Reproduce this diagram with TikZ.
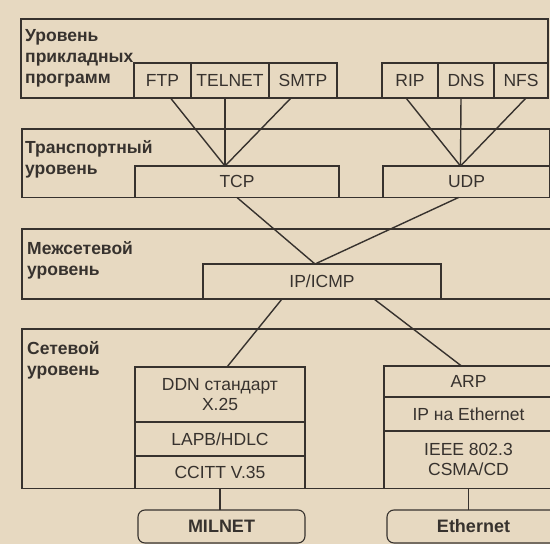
\documentclass[tikz,border=0pt]{standalone}
\usepackage{fontspec}
\setmainfont{Liberation Sans}
\definecolor{paper}{RGB}{231,217,193}
\definecolor{ink}{RGB}{55,50,46}

\begin{document}
\begin{tikzpicture}[
        x=1pt, y=-1pt,
        layern/.style={draw=ink, line width=1.3pt, inner sep=0pt, outer sep=0pt},
        protn/.style={draw=ink, line width=1.1pt, inner sep=0pt, outer sep=0pt, text=ink, align=center,
            font=\fontsize{17.5}{20}\selectfont},
        netn/.style={protn, rounded corners=7pt, font=\bfseries\fontsize{18}{20}\selectfont},
        labeln/.style={anchor=north west, inner sep=0pt, text=ink, align=left,
            font=\bfseries\fontsize{17.5}{21}\selectfont},
        link/.style={draw=ink, line width=1.4pt},
    ]
    \clip (0,0) rectangle (550,544);
    \fill[paper] (0,0) rectangle (550,544);

    % layers
    \node[layern, minimum width=527pt, minimum height=79pt] (app) at (284.5,58.5) {};
    \node[layern, minimum width=528pt, minimum height=68.5pt] (trans) at (286,163.25) {};
    \node[layern, minimum width=553pt, minimum height=70pt] (inet) at (298.5,264) {};
    \node[layern, minimum width=553pt, minimum height=159.5pt] (net) at (298.5,408.75) {};

    \node[labeln] (applbl) at (25,29.5) {Уровень\\прикладных\\программ};
    \node[labeln] (translbl) at (25,140) {Транспортный\\уровень};
    \node[labeln] (inetlbl) at (27,241) {Межсетевой\\уровень};
    \node[labeln] (netlbl) at (27,341) {Сетевой\\уровень};

    % application protocols
    \node[protn, minimum width=57pt, minimum height=35pt] (ftp) at (162.5,80.5) {FTP};
    \node[protn, minimum width=78pt, minimum height=35pt] (telnet) at (230,80.5) {TELNET};
    \node[protn, minimum width=68pt, minimum height=35pt] (smtp) at (303,80.5) {SMTP};
    \node[protn, minimum width=56pt, minimum height=35pt] (rip) at (410,80.5) {RIP};
    \node[protn, minimum width=56pt, minimum height=35pt] (dns) at (466,80.5) {DNS};
    \node[protn, minimum width=54pt, minimum height=35pt] (nfs) at (521,80.5) {NFS};

    % transport
    \node[protn, minimum width=204pt, minimum height=31.5pt] (tcp) at (237,181.75) {TCP};
    \node[protn, minimum width=167pt, minimum height=31.5pt] (udp) at (466.5,181.75) {UDP};

    % internet
    \node[protn, minimum width=238pt, minimum height=35pt] (ip) at (322,281.5) {IP/ICMP};

    % network
    \node[protn, minimum width=170pt, minimum height=55pt] (ddn) at (220,394.5) {DDN стандарт\\X.25};
    \node[protn, minimum width=170pt, minimum height=34pt] (lapb) at (220,439) {LAPB/HDLC};
    \node[protn, minimum width=170pt, minimum height=32.5pt] (ccitt) at (220,472.25) {CCITT V.35};
    \node[protn, minimum width=169pt, minimum height=31pt] (arp) at (468.5,381.5) {ARP};
    \node[protn, minimum width=169pt, minimum height=34pt] (ipeth) at (468.5,414) {IP на Ethernet};
    \node[protn, minimum width=169pt, minimum height=57.5pt] (ieee) at (468.5,459.75) {IEEE 802.3\\CSMA/CD};

    \node[netn, minimum width=167pt, minimum height=33pt] (milnet) at (221.5,526.5) {MILNET};
    \node[netn, minimum width=173pt, minimum height=33pt] (ether) at (473.5,526.5) {Ethernet};

    % connectors
    \draw[link] ([xshift=8pt]ftp.south) -- ([xshift=-12pt]tcp.north);
    \draw[link] ([xshift=-5pt]telnet.south) -- ([xshift=-12pt]tcp.north);
    \draw[link] ([xshift=-12pt]smtp.south) -- ([xshift=-12pt]tcp.north);
    \draw[link] ([xshift=-4pt]rip.south) -- ([xshift=-6pt]udp.north);
    \draw[link] ([xshift=-5pt]dns.south) -- ([xshift=-6pt]udp.north);
    \draw[link] ([xshift=5pt]nfs.south) -- ([xshift=-6pt]udp.north);
    \draw[link] (tcp.south) -- ([xshift=-7pt]ip.north);
    \draw[link] ([xshift=-8pt]udp.south) -- ([xshift=-7pt]ip.north);
    \draw[link] ([xshift=-40pt]ip.south) -- ([xshift=7pt]ddn.north);
    \draw[link] ([xshift=52pt]ip.south) -- ([xshift=-7pt]arp.north);
    \draw[link] (ccitt.south) -- (ccitt.south |- milnet.north);
    \draw[link] (ieee.south) -- (ieee.south |- ether.north);
\end{tikzpicture}
\end{document}
